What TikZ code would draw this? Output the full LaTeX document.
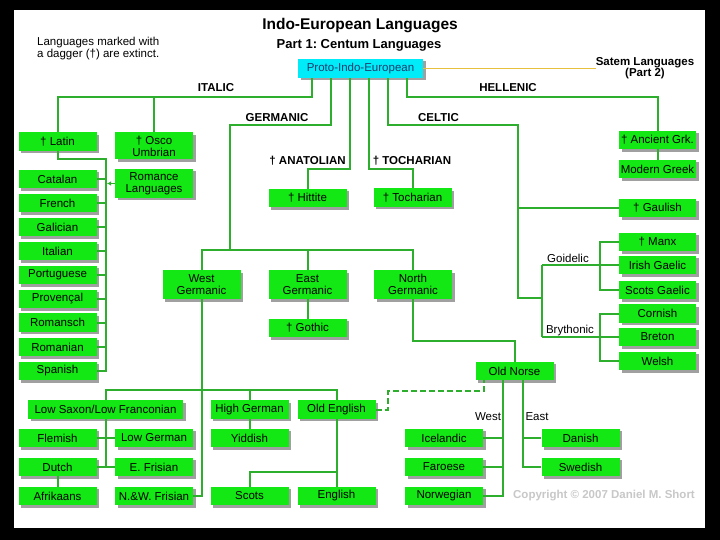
\documentclass[tikz,border=0pt]{standalone}
\usepackage{fontspec}
\setmainfont{Liberation Sans}
\frenchspacing
\usetikzlibrary{shadows,arrows.meta}
\definecolor{boxgreen}{RGB}{20,232,20}
\definecolor{linegreen}{RGB}{45,175,45}
\definecolor{piecyan}{RGB}{0,236,248}
\definecolor{pietext}{RGB}{30,60,110}
\definecolor{shadowgray}{RGB}{160,160,160}
\definecolor{copygray}{RGB}{200,200,200}
\definecolor{satemline}{RGB}{232,192,64}
\tikzset{
 lang/.style={fill=boxgreen, minimum width=78pt, minimum height=18.5pt, inner sep=0pt, align=center,
   font=\fontsize{11.5}{12}\selectfont,
   drop shadow={shadow xshift=2.5pt, shadow yshift=-2.5pt, fill=shadowgray, opacity=1}},
 tall/.style={minimum height=29pt},
 rcol/.style={minimum width=77pt},
 conn/.style={draw=linegreen, line width=2pt},
 branchlbl/.style={font=\bfseries\fontsize{11.5}{13}\selectfont},
 sublbl/.style={font=\fontsize{11.5}{13}\selectfont},
}
\begin{document}
\begin{tikzpicture}[x=1pt,y=-1pt]
\fill[black] (0,0) rectangle (720,540);
\fill[white] (14,10) rectangle (705,528);

% titles
\node[font=\bfseries\fontsize{15.5}{18}\selectfont] (title) at (360,26) {Indo-European Languages};
\node[font=\bfseries\fontsize{13}{15}\selectfont] (part) at (359,45) {Part 1: Centum Languages};
\node[font=\fontsize{11.5}{12}\selectfont, align=left, anchor=west, inner sep=0pt] (note) at (37,49) {Languages marked with\\a dagger (†) are extinct.};
\node[branchlbl, align=center, inner sep=0pt, font=\bfseries\fontsize{11.5}{11}\selectfont] (satem) at (645,68.5) {Satem Languages\\(Part 2)};
\node[font=\bfseries\fontsize{11.5}{13}\selectfont, text=copygray] (copy) at (604,496) {Copyright © 2007 Daniel M. Short};

% root
\node[lang, minimum width=125pt, minimum height=19pt, fill=piecyan, text=pietext] (pie) at (360.5,68.5) {Proto-Indo-European};

% branch labels
\node[branchlbl] (lita) at (216,88) {ITALIC};
\node[branchlbl] (lhel) at (508,88) {HELLENIC};
\node[branchlbl] (lger) at (277,118) {GERMANIC};
\node[branchlbl] (lcel) at (438.5,118) {CELTIC};
\node[branchlbl] (lana) at (307.5,161) {† ANATOLIAN};
\node[branchlbl] (ltoc) at (412,161) {† TOCHARIAN};
\node[sublbl] (lgoi) at (568,258) {Goidelic};
\node[sublbl] (lbry) at (570,331) {Brythonic};
\node[sublbl] (lwest) at (488,417) {West};
\node[sublbl] (least) at (537,417) {East};

% Italic
\node[lang] (latin) at (57.5,141.5) {† Latin};
\node[lang, minimum height=27pt] (osco) at (154,146) {† Osco\\Umbrian};
\node[lang, tall] (romance) at (154,183.5) {Romance\\Languages};
\node[lang] (catalan) at (57.5,179) {Catalan};
\node[lang] (french) at (57.5,203) {French};
\node[lang] (galician) at (57.5,227) {Galician};
\node[lang] (italian) at (57.5,251) {Italian};
\node[lang] (portug) at (57.5,275) {Portuguese};
\node[lang] (proven) at (57.5,299) {Provençal};
\node[lang] (romansch) at (57.5,322.5) {Romansch};
\node[lang] (romanian) at (57.5,347) {Romanian};
\node[lang] (spanish) at (57.5,371) {Spanish};

% Anatolian, Tocharian
\node[lang] (hittite) at (307.5,198) {† Hittite};
\node[lang] (tochar) at (412.5,197.5) {† Tocharian};

% Germanic
\node[lang, tall] (wgerm) at (201.5,284.5) {West\\Germanic};
\node[lang, tall] (egerm) at (307.5,284.5) {East\\Germanic};
\node[lang, tall] (ngerm) at (413,284.5) {North\\Germanic};
\node[lang] (gothic) at (307.5,328) {† Gothic};
\node[lang] (oldnorse) at (514.5,371) {Old Norse};
\node[lang, minimum width=155pt] (lowsax) at (105.5,409.5) {Low Saxon/Low Franconian};
\node[lang] (flemish) at (57.5,438) {Flemish};
\node[lang] (lowger) at (154,438) {Low German};
\node[lang] (dutch) at (57.5,467) {Dutch};
\node[lang] (efris) at (154,467) {E. Frisian};
\node[lang] (afrik) at (57.5,496) {Afrikaans};
\node[lang] (nwfris) at (154,496) {N.\&W. Frisian};
\node[lang] (highger) at (249.5,409.5) {High German};
\node[lang] (yiddish) at (249.5,438) {Yiddish};
\node[lang] (scots) at (249.5,496) {Scots};
\node[lang] (oldeng) at (336.5,409.5) {Old English};
\node[lang] (english) at (336.5,496) {English};
\node[lang] (icel) at (444,438) {Icelandic};
\node[lang] (faroe) at (444,467) {Faroese};
\node[lang] (norweg) at (444,496) {Norwegian};
\node[lang] (danish) at (580.5,438) {Danish};
\node[lang] (swed) at (580.5,467) {Swedish};

% Hellenic, Celtic
\node[lang, rcol] (ancgrk) at (657.5,140) {† Ancient Grk.};
\node[lang, rcol] (modgrk) at (657.5,169) {Modern Greek};
\node[lang, rcol] (gaulish) at (657.5,208) {† Gaulish};
\node[lang, rcol] (manx) at (657.5,242) {† Manx};
\node[lang, rcol] (irish) at (657.5,265) {Irish Gaelic};
\node[lang, rcol] (scotsg) at (657.5,290) {Scots Gaelic};
\node[lang, rcol] (cornish) at (657.5,313.5) {Cornish};
\node[lang, rcol] (breton) at (657.5,337) {Breton};
\node[lang, rcol] (welsh) at (657.5,361) {Welsh};

% junction coordinates
\coordinate (rowA) at (0,97);
\coordinate (rowB) at (0,125);
\coordinate (rowD) at (0,169);
\coordinate (gerj) at (230,250);
\coordinate (celtx) at (518,298);
\coordinate (goid) at (542,265);
\coordinate (bryth) at (542,337);
\coordinate (subx) at (600,0);
\coordinate (romx) at (106,159);
\coordinate (wgrow) at (0,390);
\coordinate (oerow) at (0,472);
\coordinate (nrow) at (0,341);
\coordinate (dj) at (388,391);
\coordinate (wx) at (503,0);
\coordinate (ex) at (523,0);

% satem line
\draw[satemline, line width=0.8pt] (pie.east) -- (satem.west |- pie.east);

% PIE branches
\draw[conn] ([xshift=-48.5pt]pie.south) |- (rowA -| latin) -- (latin.north);
\draw[conn] (rowA -| osco) -- (osco.north);
\draw[conn] ([xshift=46.5pt]pie.south) |- (rowA -| ancgrk) -- (ancgrk.north);
\draw[conn] (ancgrk.south) -- (modgrk.north);
\draw[conn] ([xshift=-29.5pt]pie.south) |- (gerj |- rowB) -- (gerj);
\draw[conn] (wgerm.north) |- (gerj) -| (ngerm.north);
\draw[conn] (egerm.north |- gerj) -- (egerm.north);
\draw[conn] ([xshift=-10.5pt]pie.south) |- (rowD -| hittite) -- (hittite.north);
\draw[conn] ([xshift=8.5pt]pie.south) |- (rowD -| tochar) -- (tochar.north);
\draw[conn] ([xshift=27.5pt]pie.south) |- (celtx |- rowB) -- (celtx) -- (celtx -| goid);

% Celtic
\draw[conn] (celtx |- gaulish) -- (gaulish.west);
\draw[conn] (goid) -- (bryth);
\draw[conn] (goid) -- (irish.west);
\draw[conn] (manx.west) -| (subx |- scotsg) -- (scotsg.west);
\draw[conn] (bryth) -- (breton.west);
\draw[conn] (cornish.west) -| (subx |- welsh) -- (welsh.west);

% Romance
\draw[conn] (latin.south) |- (romx) -- (romx |- spanish) -- (spanish.east);
\draw[conn] (catalan.east) -- (catalan.east -| romx);
\draw[conn] (french.east) -- (french.east -| romx);
\draw[conn] (galician.east) -- (galician.east -| romx);
\draw[conn] (italian.east) -- (italian.east -| romx);
\draw[conn] (portug.east) -- (portug.east -| romx);
\draw[conn] (proven.east) -- (proven.east -| romx);
\draw[conn] (romansch.east) -- (romansch.east -| romx);
\draw[conn] (romanian.east) -- (romanian.east -| romx);
\draw[draw=linegreen, line width=1.4pt, -{Latex[length=4pt,width=4.5pt]}] (romance.west) -- ([xshift=1pt]romance.west -| romx);

% Germanic
\draw[conn] (egerm.south) -- (gothic.north);
\draw[conn] (wgerm.south) -- (wgerm.south |- nwfris) -- (nwfris.east);
\draw[conn] (lowsax.north) -- (lowsax.north |- wgrow) -- (oldeng.north |- wgrow) -- (oldeng.north);
\draw[conn] (highger.north |- wgrow) -- (highger.north);
\draw[conn] (highger.south) -- (yiddish.north);
\draw[conn] (lowsax.south) -- (lowsax.south |- dutch);
\draw[conn] (flemish.east) -- (lowger.west);
\draw[conn] (dutch.east) -- (efris.west);
\draw[conn] (dutch.south) -- (afrik.north);
\draw[conn] (oldeng.south) -- (english.north);
\draw[conn] (oldeng.south |- oerow) -| (scots.north);
\draw[conn] (ngerm.south) |- (oldnorse.north |- nrow) -- (oldnorse.north);
\draw[conn] (wx |- oldnorse.south) |- (norweg.east);
\draw[conn] (icel.east) -- (icel.east -| wx);
\draw[conn] (faroe.east) -- (faroe.east -| wx);
\draw[conn] (ex |- oldnorse.south) |- (swed.west);
\draw[conn] (danish.west) -- (danish.west -| ex);
\draw[draw=linegreen, line width=2pt, dash pattern=on 6pt off 3pt] (oldeng.east) -| (dj) -| ([xshift=-30.5pt]oldnorse.south);
\end{tikzpicture}
\end{document}
